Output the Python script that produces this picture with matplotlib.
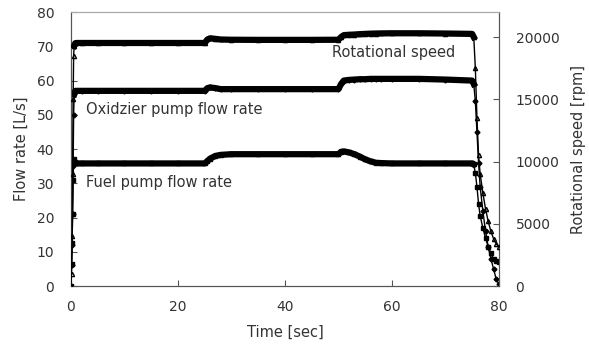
import numpy as np
import matplotlib
matplotlib.use("Agg")
import matplotlib.pyplot as plt

# Time samples [sec]
time_s = [0, 0.1, 0.2, 0.3, 0.4, 0.5, 0.6, 0.8, 1, 2, 5, 10, 15, 20, 25, 25.5, 26, 27, 28, 30,
          35, 40, 45, 50, 50.5, 51, 52, 53, 54, 55, 56, 57, 58, 60, 65, 70, 75, 75.3, 75.6,
          75.9, 76.2, 76.5, 77, 77.5, 78, 78.5, 79, 79.5, 80]

# Rotational speed [rpm] (right axis)
rot_speed = [0, 1000, 4000, 9000, 15000, 18500, 19300, 19500, 19520, 19520, 19520, 19520,
             19520, 19520, 19520, 19800, 19900, 19850, 19800, 19780, 19770, 19770, 19770,
             19780, 20000, 20150, 20180, 20200, 20230, 20250, 20270, 20280, 20290, 20300,
             20300, 20280, 20250, 20000, 17500, 13500, 10500, 9000, 7500, 6200, 5200, 4400,
             3800, 3400, 3100]

# Oxidizer pump flow rate [L/s]
ox_flow = [0, 6, 12, 21, 35, 50, 56, 57, 57, 57, 57, 57, 57, 57, 57, 57.8, 58, 57.8, 57.5,
           57.5, 57.5, 57.5, 57.5, 57.5, 59, 60, 60.2, 60.3, 60.4, 60.4, 60.5, 60.5, 60.5,
           60.5, 60.5, 60.3, 60, 59, 54, 45, 36, 29, 22, 16, 11.5, 8, 5, 2, 0.5]

# Fuel pump flow rate [L/s]
fuel_flow = [0, 6.5, 12.5, 21, 31, 37, 36.5, 35.8, 35.8, 35.8, 35.8, 35.8, 35.8, 35.8, 35.8,
             36.5, 37.2, 38, 38.3, 38.5, 38.5, 38.5, 38.5, 38.5, 39.2, 39.3, 39, 38.5, 37.8,
             37, 36.4, 36, 35.9, 35.8, 35.8, 35.8, 35.8, 35.5, 33, 29, 24, 20.5, 17, 14, 11.5,
             9.5, 8, 7.3, 7]

plt.rcParams['font.family'] = ['DejaVu Sans']
TXT = '#333333'

t = np.array(time_s)
steady = (t >= 0.6) & (t <= 75.3)

fig = plt.figure(figsize=(5.89, 3.46), dpi=100)
ax = fig.add_axes([0.1205, 0.1734, 0.7265, 0.7916])
ax2 = ax.twinx()

# thin line + markers for the whole record, thick band for the steady part
ax.plot(t, fuel_flow, color='k', lw=1, marker='s', ms=3, zorder=3)
ax.plot(t[steady], np.array(fuel_flow)[steady], color='k', lw=4.5, zorder=3)
ax.plot(t, ox_flow, color='k', lw=1, marker='D', ms=2.5, zorder=3)
ax.plot(t[steady], np.array(ox_flow)[steady], color='k', lw=4.5, zorder=3)
ax2.plot(t, rot_speed, color='k', lw=1, marker='^', ms=3, mfc='none', zorder=3)
ax2.plot(t[steady], np.array(rot_speed)[steady], color='k', lw=4.5, zorder=3)

ax.set_xlim(0, 80)
ax.set_ylim(0, 80)
ax2.set_ylim(0, 22000)
ax.set_xticks([0, 20, 40, 60, 80])
ax.set_yticks(range(0, 81, 10))
ax2.set_yticks(range(0, 20001, 5000))

ax.set_xlabel('Time [sec]', fontsize=10.5, color=TXT, labelpad=8)
ax.set_ylabel('Flow rate [L/s]', fontsize=10.5, color=TXT, labelpad=6)
ax2.set_ylabel('Rotational speed [rpm]', fontsize=10.5, color=TXT, labelpad=8)

for a in (ax, ax2):
    a.tick_params(direction='in', length=4, labelsize=10, labelcolor=TXT, color='#555555')
    a.tick_params(axis='x', pad=10)
    a.tick_params(axis='y', pad=12)
    for s in a.spines.values():
        s.set_color('#555555')
    a.spines['top'].set_color('#aaaaaa')

ax.text(48.8, 68.3, 'Rotational speed', fontsize=10.5, color=TXT, ha='left', va='center')
ax.text(2.8, 51.6, 'Oxidzier pump flow rate', fontsize=10.5, color=TXT, ha='left', va='center')
ax.text(2.8, 30.2, 'Fuel pump flow rate', fontsize=10.5, color=TXT, ha='left', va='center')

fig.savefig('out.png', dpi=100, facecolor='white')
